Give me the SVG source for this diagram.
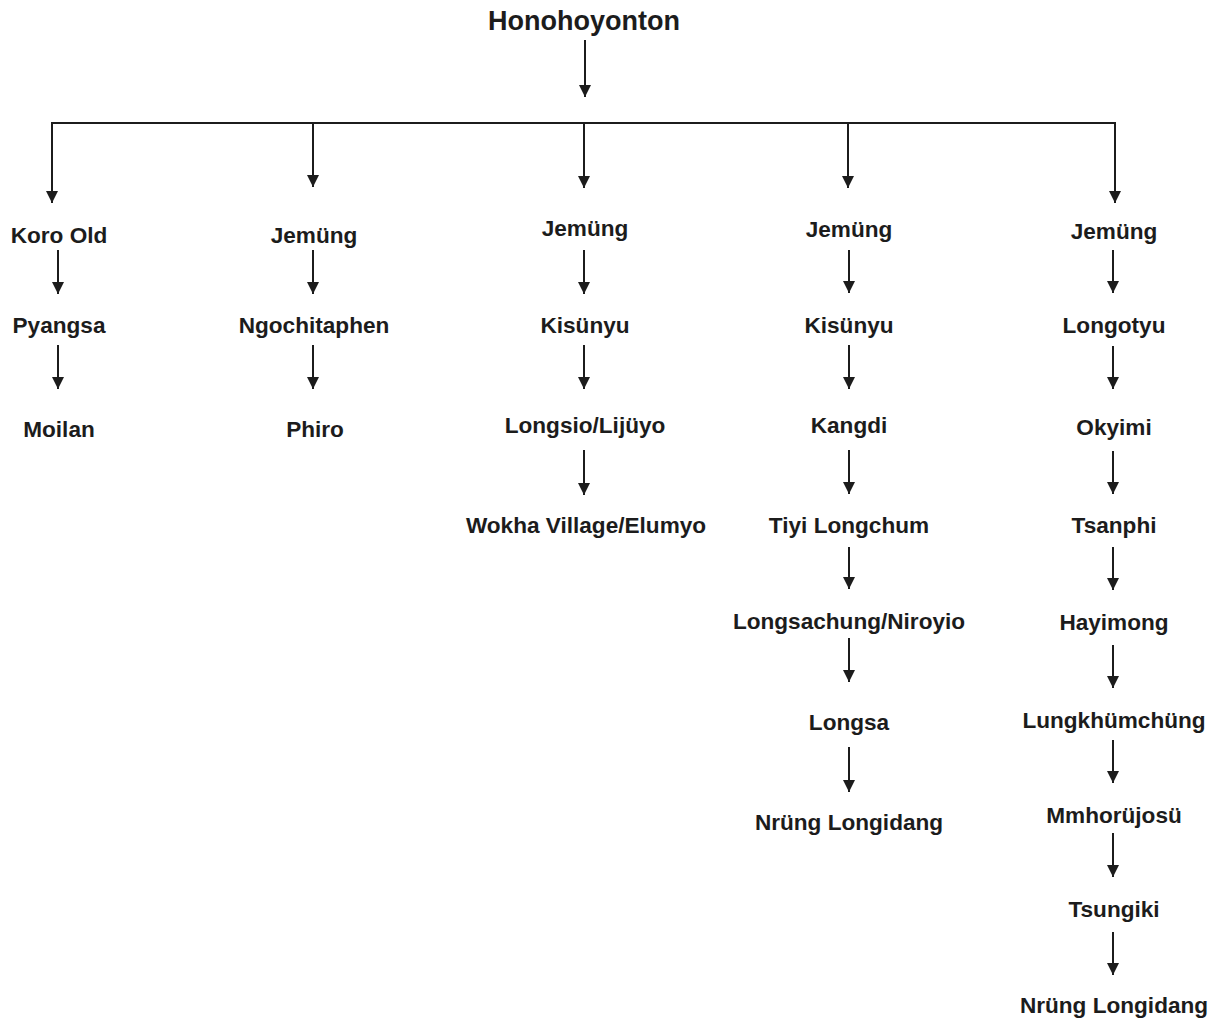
<svg xmlns="http://www.w3.org/2000/svg" width="1215" height="1028" viewBox="0 0 1215 1028">
<style>
text{font-family:"Liberation Sans",Arial,sans-serif;font-weight:bold;font-size:22.6px;fill:#1c1c1c;text-anchor:middle}
.title{font-size:27px}
.c{stroke:#1c1c1c;stroke-width:2;fill:none}
.a{marker-end:url(#ah)}
</style>
<defs>
<marker id="ah" markerUnits="userSpaceOnUse" markerWidth="12" markerHeight="12" refX="12" refY="6" orient="auto">
<path d="M0,0 L12,6 L0,12 Z" fill="#1c1c1c"/>
</marker>
</defs>
<rect width="1215" height="1028" fill="#ffffff"/>
<g id="connectors">
<line class="c a" x1="585" y1="40" x2="585" y2="97"/>
<line class="c" x1="51" y1="123" x2="1116" y2="123"/>
<line class="c a" x1="52" y1="122" x2="52" y2="203"/>
<line class="c a" x1="1115" y1="122" x2="1115" y2="203"/>
<line class="c a" x1="313" y1="123" x2="313" y2="187"/>
<line class="c a" x1="584" y1="123" x2="584" y2="188"/>
<line class="c a" x1="848" y1="123" x2="848" y2="188"/>
<line class="c a" x1="58" y1="250" x2="58" y2="294"/>
<line class="c a" x1="58" y1="345" x2="58" y2="389"/>
<line class="c a" x1="313" y1="250" x2="313" y2="294"/>
<line class="c a" x1="313" y1="345" x2="313" y2="389"/>
<line class="c a" x1="584" y1="250" x2="584" y2="294"/>
<line class="c a" x1="584" y1="345" x2="584" y2="389"/>
<line class="c a" x1="584" y1="450" x2="584" y2="495"/>
<line class="c a" x1="849" y1="250" x2="849" y2="293"/>
<line class="c a" x1="849" y1="345" x2="849" y2="389"/>
<line class="c a" x1="849" y1="450" x2="849" y2="494"/>
<line class="c a" x1="849" y1="547" x2="849" y2="589"/>
<line class="c a" x1="849" y1="638" x2="849" y2="682"/>
<line class="c a" x1="849" y1="747" x2="849" y2="792"/>
<line class="c a" x1="1113" y1="250" x2="1113" y2="293"/>
<line class="c a" x1="1113" y1="346" x2="1113" y2="389"/>
<line class="c a" x1="1113" y1="451" x2="1113" y2="494"/>
<line class="c a" x1="1113" y1="547" x2="1113" y2="590"/>
<line class="c a" x1="1113" y1="645" x2="1113" y2="688"/>
<line class="c a" x1="1113" y1="740" x2="1113" y2="783"/>
<line class="c a" x1="1113" y1="833" x2="1113" y2="877"/>
<line class="c a" x1="1113" y1="932" x2="1113" y2="975"/>
</g>
<g id="n-root"><text class="title" x="584" y="30">Honohoyonton</text></g>
<g id="n-c1-1"><text x="59" y="243">Koro Old</text></g>
<g id="n-c1-2"><text x="59" y="333">Pyangsa</text></g>
<g id="n-c1-3"><text x="59" y="437">Moilan</text></g>
<g id="n-c2-1"><text x="314" y="243">Jemüng</text></g>
<g id="n-c2-2"><text x="314" y="333">Ngochitaphen</text></g>
<g id="n-c2-3"><text x="315" y="437">Phiro</text></g>
<g id="n-c3-1"><text x="585" y="236">Jemüng</text></g>
<g id="n-c3-2"><text x="585" y="333">Kisünyu</text></g>
<g id="n-c3-3"><text x="585" y="433">Longsio/Lijüyo</text></g>
<g id="n-c3-4"><text x="586" y="533">Wokha Village/Elumyo</text></g>
<g id="n-c4-1"><text x="849" y="237">Jemüng</text></g>
<g id="n-c4-2"><text x="849" y="333">Kisünyu</text></g>
<g id="n-c4-3"><text x="849" y="433">Kangdi</text></g>
<g id="n-c4-4"><text x="849" y="533">Tiyi Longchum</text></g>
<g id="n-c4-5"><text x="849" y="629">Longsachung/Niroyio</text></g>
<g id="n-c4-6"><text x="849" y="730">Longsa</text></g>
<g id="n-c4-7"><text x="849" y="830">Nrüng Longidang</text></g>
<g id="n-c5-1"><text x="1114" y="239">Jemüng</text></g>
<g id="n-c5-2"><text x="1114" y="333">Longotyu</text></g>
<g id="n-c5-3"><text x="1114" y="435">Okyimi</text></g>
<g id="n-c5-4"><text x="1114" y="533">Tsanphi</text></g>
<g id="n-c5-5"><text x="1114" y="630">Hayimong</text></g>
<g id="n-c5-6"><text x="1114" y="728">Lungkhümchüng</text></g>
<g id="n-c5-7"><text x="1114" y="823">Mmhorüjosü</text></g>
<g id="n-c5-8"><text x="1114" y="917">Tsungiki</text></g>
<g id="n-c5-9"><text x="1114" y="1013">Nrüng Longidang</text></g>
</svg>
